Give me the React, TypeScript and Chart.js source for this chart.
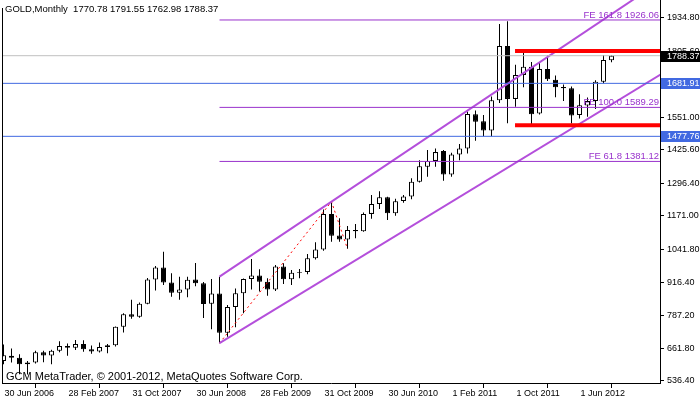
import React, { useEffect, useRef } from "react";
import { Chart, registerables } from "chart.js";

Chart.register(...registerables);

// ---- Data (monthly GOLD candles, bar index 0 = first visible bar) ----
const OPEN = [
  612, 632, 625, 600, 606, 646, 633, 652, 670, 663,
  678, 658, 649, 666, 673, 744, 792, 783, 833, 926,
  972, 915, 875, 888, 926, 912, 833, 872, 721, 820,
  873, 928, 942, 918, 888, 976, 927, 952, 955, 1008,
  1042, 1179, 1096, 1080, 1117, 1112, 1179, 1217, 1243, 1181,
  1229, 1246, 1303, 1361, 1383, 1421, 1331, 1408, 1431, 1563,
  1536, 1500, 1617, 1826, 1622, 1714, 1746, 1566, 1737, 1696,
  1668, 1663, 1560, 1597, 1614, 1688, 1770.78,
];
const HIGH = [
  676, 660, 638, 612, 652, 652, 656, 688, 680, 693,
  692, 672, 684, 678, 745, 796, 848, 838, 932, 978,
  1033, 950, 937, 937, 990, 917, 928, 937, 828, 892,
  930, 1005, 966, 931, 982, 989, 963, 967, 1024, 1070,
  1196, 1226, 1162, 1132, 1140, 1184, 1252, 1266, 1245, 1237,
  1252, 1316, 1386, 1425, 1431, 1425, 1415, 1448, 1573, 1577,
  1560, 1631, 1911, 1921, 1754, 1802, 1764, 1760, 1790, 1712,
  1677, 1670, 1640, 1627, 1694, 1791, 1791.55,
];
const LOW = [
  600, 606, 561, 560, 603, 607, 600, 646, 632, 655,
  648, 640, 645, 642, 668, 722, 775, 779, 831, 884,
  905, 860, 848, 858, 900, 778, 735, 681, 706, 742,
  796, 888, 880, 864, 882, 909, 905, 931, 946, 1003,
  1037, 1072, 1072, 1044.4, 1085, 1110, 1160, 1198, 1155, 1172,
  1222, 1235, 1300, 1322, 1361, 1307, 1322, 1386, 1412, 1461,
  1478, 1478, 1606, 1528, 1592, 1667, 1522, 1562, 1691, 1628,
  1614, 1527, 1546, 1553, 1583, 1682, 1762.98,
];
const CLOSE = [
  634, 625, 600, 606, 646, 633, 652, 670, 663, 678,
  658, 649, 666, 673, 744, 792, 783, 833, 926, 972,
  915, 875, 888, 925, 912, 832, 872, 721, 820, 873,
  928, 942, 918, 888, 976, 927, 952, 955, 1008, 1042,
  1179, 1095, 1080, 1117, 1112, 1179, 1217, 1243, 1181, 1228,
  1246, 1303, 1363, 1383, 1417, 1331, 1408, 1431, 1564, 1534,
  1500, 1617, 1826, 1622, 1714, 1746, 1563, 1737, 1698, 1667,
  1663, 1558, 1598, 1614, 1688, 1772, 1788.37,
];

const X_TICK_POS = [0, 8, 16, 24, 32, 40, 48, 56, 64, 72];
const X_TICK_LABELS = [
  "30 Jun 2006", "28 Feb 2007", "31 Oct 2007", "30 Jun 2008", "28 Feb 2009",
  "31 Oct 2009", "30 Jun 2010", "1 Feb 2011", "1 Oct 2011", "1 Jun 2012",
];
const Y_TICKS = [536.4, 661.8, 787.2, 916.4, 1041.8, 1171.0, 1296.4, 1425.6, 1551.0, 1680.2, 1805.6, 1934.8];

// Objects drawn on the chart
const FE_PCT = ["61.8", "100.0", "161.8"];
const FE_LEVELS = [1381.12, 1589.29, 1926.06];
const FE_START = 27;
const FE_POINTS = [
  { x: 27, y: 681 },
  { x: 41, y: 1226 },
  { x: 43, y: 1044.4 },
];
const UPPER_CHANNEL = [
  { x: 27, y: 937 },
  { x: 80, y: 2031 },
];
const LOWER_CHANNEL = [
  { x: 27, y: 681 },
  { x: 83, y: 1732 },
];
const RED_LEVELS = [1807, 1520];
const RED_START = 64;
const BLUE_LEVELS = [1681.91, 1477.76];
const BID = 1788.37;
const HEADER = "GOLD,Monthly  1770.78 1791.55 1762.98 1788.37";
const COPYRIGHT = "GCM MetaTrader, \u00A9 2001-2012, MetaQuotes Software Corp.";

const X_MIN = -0.1875;
const X_MAX = 82.0625;
const Y_MIN = 527.5;
const Y_MAX = 2003.0;

const FONT = "'Liberation Sans', Arial, sans-serif";
const FE_COLOR = "#9932CC";
const CHANNEL_COLOR = "#B44FDB";
const BLUE = "#4169E1";

function hline(level: number, from: number, to: number) {
  return [
    { x: from, y: level },
    { x: to, y: level },
  ];
}

const overlayPlugin = {
  id: "overlay",
  afterDraw(chart: any) {
    const { ctx, chartArea } = chart;
    const y = chart.scales.y;
    ctx.save();
    // left border
    ctx.strokeStyle = "#000";
    ctx.lineWidth = 1;
    ctx.beginPath();
    ctx.moveTo(2.5, 8);
    ctx.lineTo(2.5, chartArea.bottom);
    ctx.stroke();

    // FE labels
    ctx.font = `9.5px ${FONT}`;
    ctx.fillStyle = FE_COLOR;
    ctx.textAlign = "right";
    ctx.textBaseline = "alphabetic";
    FE_LEVELS.forEach((v, i) => {
      ctx.fillText(`FE ${FE_PCT[i]} ${v.toFixed(2)}`, chartArea.right - 1, y.getPixelForValue(v) - 2);
    });

    // axis boxes
    const box = (v: number, bg: string) => {
      const py = Math.round(y.getPixelForValue(v));
      ctx.fillStyle = bg;
      ctx.fillRect(chartArea.right + 1, py - 5, 700 - chartArea.right - 1, 11);
      ctx.fillStyle = "#fff";
      ctx.font = `9px ${FONT}`;
      ctx.textAlign = "left";
      ctx.textBaseline = "middle";
      ctx.fillText(v.toFixed(2), chartArea.right + 7, py + 0.5);
    };
    BLUE_LEVELS.forEach((v) => box(v, BLUE));
    box(BID, "#000");

    // header & copyright
    ctx.fillStyle = "#000";
    ctx.textAlign = "left";
    ctx.textBaseline = "middle";
    ctx.font = `9.5px ${FONT}`;
    ctx.fillText(HEADER, 5, 9);
    ctx.font = `11px ${FONT}`;
    ctx.fillText(COPYRIGHT, 6, 377);
    ctx.restore();
  },
};

export default function App() {
  const ref = useRef<HTMLCanvasElement | null>(null);

  useEffect(() => {
    if (!ref.current) return;
    Chart.defaults.font.family = FONT;
    Chart.defaults.color = "#000";

    const wicks = LOW.map((l, i) => ({ x: i, y: [l, HIGH[i]] }));
    const bodies = OPEN.map((o, i) => ({ x: i, y: [o, CLOSE[i]] }));
    const bodyColors = OPEN.map((o, i) => (CLOSE[i] >= o ? "#ffffff" : "#000000"));

    const lineDs = (data: any[], color: string, width: number, dash: number[] = []) => ({
      type: "line" as const,
      data,
      borderColor: color,
      borderWidth: width,
      borderDash: dash,
      pointRadius: 0,
      tension: 0,
      fill: false,
      clip: 0,
      order: 0,
    });

    const chart = new Chart(ref.current, {
      type: "bar",
      data: {
        datasets: [
          ...BLUE_LEVELS.map((v) => lineDs(hline(v, X_MIN - 1, X_MAX + 1), BLUE, 1)),
          lineDs(hline(BID, X_MIN - 1, X_MAX + 1), "#C0C0C0", 1),
          ...FE_LEVELS.map((v) => lineDs(hline(v, FE_START, X_MAX + 1), FE_COLOR, 1)),
          ...RED_LEVELS.map((v) => lineDs(hline(v, RED_START - 0.06, X_MAX + 1), "#FF0000", 4)),
          lineDs(UPPER_CHANNEL, CHANNEL_COLOR, 2),
          lineDs(LOWER_CHANNEL, CHANNEL_COLOR, 2),
          lineDs(FE_POINTS, "#FF0000", 1, [2, 3]),
          {
            type: "bar" as const,
            data: bodies as any,
            backgroundColor: bodyColors,
            borderColor: "#000",
            borderWidth: 1,
            borderSkipped: false,
            barThickness: 5,
            grouped: false,
            inflateAmount: 0,
            order: 1,
          },
          {
            type: "bar" as const,
            data: wicks as any,
            backgroundColor: "#000",
            borderWidth: 0,
            borderSkipped: false,
            barThickness: 1,
            grouped: false,
            inflateAmount: 0,
            order: 2,
          },
        ] as any,
      },
      options: {
        responsive: false,
        animation: false,
        devicePixelRatio: 1,
        layout: { padding: { left: 2, top: 0, right: 0, bottom: 0 } },
        plugins: { legend: { display: false }, tooltip: { enabled: false } },
        scales: {
          x: {
            type: "linear",
            min: X_MIN,
            max: X_MAX,
            offset: false,
            afterBuildTicks: (s: any) => {
              s.ticks = X_TICK_POS.map((v) => ({ value: v }));
            },
            afterFit: (s: any) => {
              s.height = 19;
              s.paddingLeft = 0;
              s.paddingRight = 0;
            },
            grid: { drawOnChartArea: false, tickLength: 5, color: "#000", tickColor: "#000" },
            border: { display: true, color: "#000", width: 1 },
            ticks: {
              autoSkip: false,
              maxRotation: 0,
              minRotation: 0,
              align: "start",
              padding: 0,
              labelOffset: 1,
              color: "#000",
              font: { size: 9, family: FONT },
              callback: (_v: any, i: number) => X_TICK_LABELS[i] ?? "",
            },
          },
          y: {
            type: "linear",
            position: "right",
            min: Y_MIN,
            max: Y_MAX,
            afterBuildTicks: (s: any) => {
              s.ticks = Y_TICKS.map((v) => ({ value: v }));
            },
            afterFit: (s: any) => {
              s.width = 40;
              s.paddingTop = 0;
              s.paddingBottom = 0;
            },
            grid: { drawOnChartArea: false, tickLength: 4, color: "#000", tickColor: "#000" },
            border: { display: true, color: "#000", width: 1 },
            ticks: {
              autoSkip: false,
              padding: 3,
              color: "#000",
              font: { size: 9, family: FONT },
              callback: (v: any) => Number(v).toFixed(2),
            },
          },
        },
      } as any,
      plugins: [overlayPlugin],
    });
    return () => chart.destroy();
  }, []);

  return (
    <div style={{ position: "fixed", left: 0, top: 0, width: 700, height: 402, background: "#fff" }}>
      <canvas ref={ref} width={700} height={402} style={{ display: "block" }} />
    </div>
  );
}
